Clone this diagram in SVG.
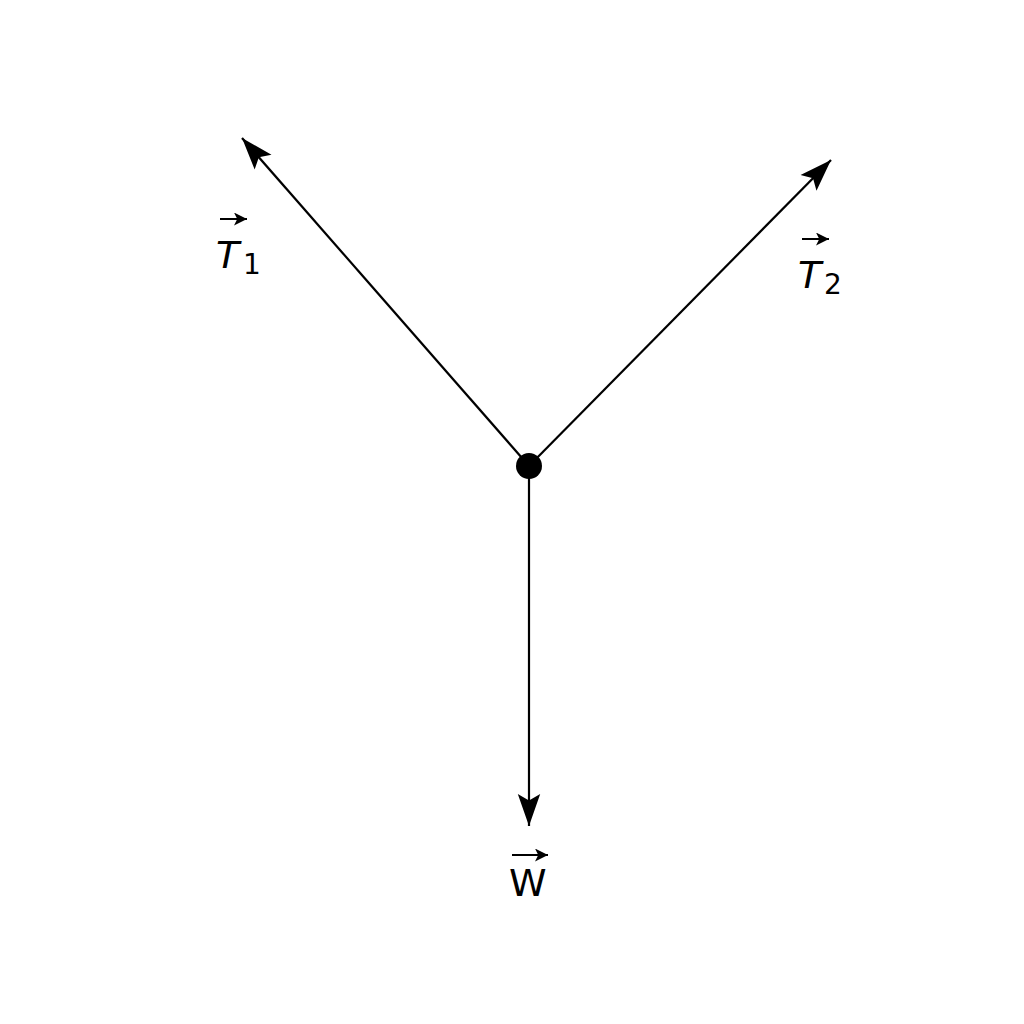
<svg xmlns="http://www.w3.org/2000/svg" width="1024" height="1024" viewBox="0 0 1024 1024">
<style>
.v{stroke:#000;stroke-width:2.2;fill:none}
.s{stroke:#000;stroke-width:2;fill:none}
text{font-family:"DejaVu Sans","Liberation Sans",sans-serif;fill:#000}
</style>
<defs>
<marker id="ah" viewBox="0 0 10 10" refX="10" refY="5" markerWidth="13" markerHeight="13" markerUnits="userSpaceOnUse" orient="auto"><path d="M0,0 L10,5 L0,10 L2.5,5 Z" fill="#000"/></marker>
<marker id="big" viewBox="0 0 10 10" refX="10" refY="5" markerWidth="32" markerHeight="32" markerUnits="userSpaceOnUse" orient="auto"><path d="M0,1.5 L10,5 L0,8.5 L2,5 Z" fill="#000"/></marker>
</defs>
<rect width="1024" height="1024" fill="#fff"/>
<g id="connectors">
<line class="v" x1="529" y1="466" x2="242" y2="138" marker-end="url(#big)"/>
<line class="v" x1="529" y1="466" x2="831" y2="160" marker-end="url(#big)"/>
<line class="v" x1="529" y1="466" x2="529" y2="826" marker-end="url(#big)"/>
</g>
<g id="node"><circle cx="529" cy="466" r="13" fill="#000"/></g>
<g id="T1">
<text x="216" y="268" font-size="38" font-style="italic">T</text>
<text x="243" y="274" font-size="28">1</text>
<line class="s" x1="220" y1="219" x2="247" y2="219" marker-end="url(#ah)"/>
</g>
<g id="T2">
<text x="798" y="288" font-size="38" font-style="italic">T</text>
<text x="824" y="294" font-size="28">2</text>
<line class="s" x1="802" y1="239" x2="829" y2="239" marker-end="url(#ah)"/>
</g>
<g id="W">
<text x="509" y="896" font-size="38">W</text>
<line class="s" x1="512" y1="855" x2="548" y2="855" marker-end="url(#ah)"/>
</g>
</svg>
